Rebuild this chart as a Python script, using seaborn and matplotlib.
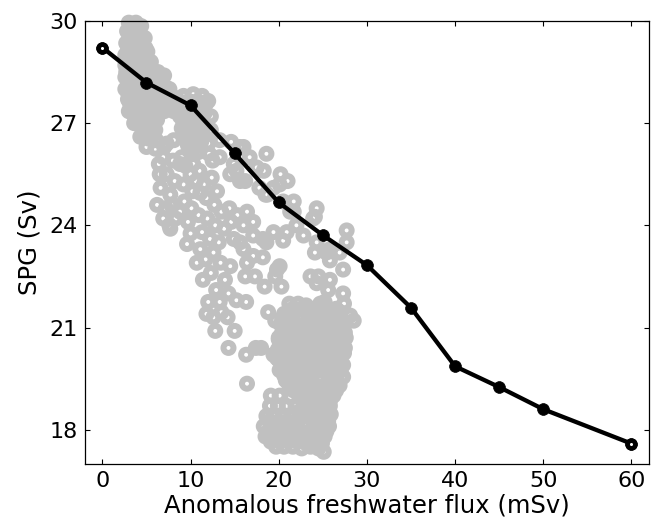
# -*- coding: utf-8 -*-

### SPG transport vs anomalous freshwater flux ###

import matplotlib
matplotlib.use("Agg")
import matplotlib.pyplot as plt
import seaborn as sns

## Styles ##
sns.set_style("ticks")
plt.rcParams['font.family'] = ['DejaVu Sans']
plt.rcParams.update({'text.color': 'k', 'axes.labelcolor': 'k',
                     'xtick.color': 'k', 'ytick.color': 'k',
                     'axes.edgecolor': 'k'})

## Data ##

# equilibrium runs (black line)
flux = [0, 5, 10, 15, 20, 25, 30, 35, 40, 45, 50, 60]
spg = [29.22, 28.19, 27.52, 26.11, 24.67, 23.71, 22.83, 21.58, 19.86, 19.25, 18.60, 17.59]

# transient run, upper part (grey rings)
top_x = [3.0, 3.8, 4.4, 2.8, 3.4, 4.2, 4.8,
         2.7, 3.3, 4.1, 4.9, 2.6, 3.2, 4.0, 4.8, 5.5,
         2.6, 3.0, 3.8, 4.6, 5.5, 6.3, 7.0,
         2.6, 3.0, 3.9, 4.8, 6.0, 6.9, 7.6,
         2.6, 3.2, 4.2, 5.2, 6.3, 7.3, 8.2, 9.2, 10.3, 11.3, 12.0,
         2.9, 3.5, 4.5, 5.5, 6.5, 7.4, 8.6, 9.6, 10.8, 11.6,
         3.0, 3.9, 4.7, 5.5, 6.2, 8.8, 9.7, 10.6, 11.4, 12.3,
         3.6, 4.4, 5.2, 6.0, 9.0, 10.0, 10.9, 12.3, 11.4,
         4.3, 5.2, 6.1, 9.3, 10.3, 11.2, 12.0, 13.3, 14.6, 15.6,
         5.0, 6.0, 7.0, 7.3, 8.1, 9.9, 10.9, 12.1, 13.3, 16.0,
         3.4, 4.1, 3.0, 3.8, 4.5, 2.9, 3.7, 4.5, 5.1, 2.9, 3.6, 4.4, 5.1,
         2.7, 3.4, 4.3, 5.1, 5.9, 6.7, 3.5, 4.4, 5.4, 6.4, 7.2,
         2.9, 3.7, 4.7, 5.7, 6.8, 7.8, 8.7, 9.8, 10.8, 11.7,
         3.1, 4.0, 5.0, 6.0, 7.0, 8.1, 9.1, 10.2, 11.2,
         3.4, 4.3, 5.1, 5.9, 9.2, 10.2, 11.0, 4.0, 4.8, 5.6, 9.5, 10.5,
         4.8, 5.7, 9.7, 10.6]
top_y = [29.95, 29.95, 29.85, 29.7, 29.65, 29.6, 29.5,
         29.35, 29.3, 29.3, 29.2, 29.0, 29.0, 28.95, 28.9, 28.8,
         28.7, 28.65, 28.6, 28.6, 28.5, 28.5, 28.4,
         28.35, 28.3, 28.25, 28.2, 28.15, 28.1, 28.0,
         28.0, 27.95, 27.9, 27.85, 27.85, 27.8, 27.75, 27.8, 27.85, 27.8, 27.65,
         27.7, 27.6, 27.6, 27.55, 27.5, 27.45, 27.5, 27.45, 27.45, 27.3,
         27.35, 27.3, 27.25, 27.2, 27.1, 27.2, 27.15, 27.1, 27.0, 27.2,
         27.0, 26.9, 26.85, 26.8, 26.85, 26.8, 26.75, 26.8, 26.7,
         26.6, 26.55, 26.5, 26.55, 26.45, 26.45, 26.4, 26.5, 26.45, 26.3,
         26.3, 26.25, 26.3, 26.4, 26.5, 26.2, 26.15, 26.1, 26.0, 26.3,
         29.8, 29.8, 29.45, 29.45, 29.45, 29.15, 29.15, 29.15, 29.1, 28.85, 28.85, 28.8, 28.75,
         28.5, 28.5, 28.45, 28.4, 28.35, 28.3, 28.2, 28.2, 28.1, 28.0, 28.05,
         27.9, 27.9, 27.85, 27.8, 27.7, 27.65, 27.65, 27.65, 27.65, 27.55,
         27.6, 27.55, 27.45, 27.4, 27.35, 27.35, 27.3, 27.3, 27.2,
         27.3, 27.25, 27.1, 27.0, 27.0, 26.95, 26.9, 27.0, 26.95, 26.95, 26.7, 26.65,
         26.7, 26.65, 26.35, 26.3]

# transient run, middle part
mid_x = [6.4, 7.3, 8.8, 10.3, 6.6, 7.7, 9.4, 6.5, 12.5,
         14.9, 16.7, 17.5, 18.6, 18.3, 14.5, 15.6, 20.2, 21.0, 19.4,
         20.5, 21.7, 24.3, 23.9, 20.1, 18.7, 21.7, 21.3, 24.1, 22.0,
         20.9, 22.8, 24.3, 27.7, 27.7, 25.8, 26.9, 15.2, 16.2, 17.8, 18.5,
         10.6, 11.5, 12.4, 13.0, 11.8, 12.7, 13.5, 10.9, 11.9, 12.8,
         13.8, 14.6, 11.3, 12.2, 13.2, 14.9, 12.6, 11.7, 13.4, 12.3,
         13.9, 11.4, 12.9, 14.3, 10.7, 14.5,
         6.9, 7.6, 8.3, 7.2, 8.8, 10.1, 11.1, 9.6, 11.1, 10.0, 7.7,
         14.4, 15.3, 16.4, 17.1, 16.0, 17.1, 18.6, 15.6,
         16.0, 17.1, 16.4, 16.2, 17.3, 18.2, 19.4, 20.5,
         18.2, 20.1, 19.6, 18.4, 20.3, 19.8,
         23.6, 24.5, 24.3, 25.6, 24.1, 25.4, 25.8, 27.3, 25.8, 27.3,
         6.9, 8.0, 9.0, 10.0, 11.0, 8.2, 9.2, 10.2, 6.2, 7.8, 9.3, 9.7]
mid_y = [25.8, 25.5, 25.8, 25.8, 25.1, 24.9, 25.75, 25.5, 25.9,
         25.8, 26.0, 25.7, 26.1, 25.6, 25.5, 25.3, 25.5, 25.3, 25.1,
         24.7, 24.4, 24.5, 24.2, 25.2, 24.9, 24.7, 24.4, 24.25, 24.0,
         23.8, 23.7, 23.5, 23.85, 23.5, 23.3, 23.2, 25.6, 25.3, 25.1, 24.9,
         25.3, 25.2, 25.4, 25.0, 24.8, 24.6, 24.4, 24.3, 24.2, 24.0,
         23.9, 24.1, 23.8, 23.6, 23.5, 23.6, 23.2, 23.0, 22.9, 22.6,
         22.4, 22.4, 22.1, 22.0, 22.9, 22.8,
         24.2, 24.0, 24.2, 24.5, 24.4, 24.5, 24.95, 23.45, 23.3, 23.76, 23.9,
         24.5, 24.3, 24.4, 24.1, 24.0, 23.7, 23.5, 23.5,
         23.3, 23.1, 22.9, 22.5, 22.5, 23.6, 23.8, 23.55,
         23.06, 22.8, 22.5, 22.2, 22.2, 22.7,
         22.5, 22.5, 22.3, 22.1, 23.2, 23.2, 22.97, 22.7, 22.4, 22.0,
         26.0, 25.9, 26.0, 25.5, 25.6, 25.3, 25.2, 25.0, 24.6, 24.6, 24.7, 24.1]

# transient run, lower part
low_x = [12.0, 13.3, 15.2, 16.3, 11.8, 12.6, 13.5, 14.2, 12.8, 15.0,
         14.3, 16.3, 17.4, 16.4, 18.8, 19.6, 20.0, 19.8, 18.0,
         21.2, 22.2, 23.1, 24.7, 25.2, 27.4, 28.5, 27.0,
         20.6, 21.5, 22.4, 23.4, 24.3, 25.3, 26.2, 28.1,
         20.2, 21.1, 22.0, 22.9, 23.9, 24.8, 25.7, 26.6,
         20.3, 21.3, 22.2, 23.2, 24.1, 25.0, 26.0, 26.9, 27.5,
         20.5, 21.4, 22.4, 23.4, 24.4, 25.3, 26.3, 27.2,
         19.4, 20.3, 21.2, 22.1, 23.0, 24.0, 24.9, 25.9, 26.8, 27.4,
         20.4, 21.4, 22.4, 23.5, 24.4, 25.4, 26.4, 27.3,
         20.6, 21.6, 22.6, 23.6, 24.6, 25.6, 26.6, 27.3,
         21.2, 22.2, 23.2, 24.2, 25.2, 26.2, 26.9,
         19.1, 20.1, 21.3, 22.3, 23.3, 24.3, 25.3, 26.2,
         19.0, 19.9, 20.9, 21.9, 22.9, 23.9, 24.9, 25.8,
         18.6, 19.5, 20.5, 21.4, 22.4, 23.4, 24.4, 25.3, 25.9,
         18.3, 19.2, 20.1, 21.1, 22.1, 23.1, 24.1, 25.0, 25.7,
         18.5, 19.4, 20.4, 21.4, 22.4, 23.4, 24.3, 25.2,
         19.7, 20.6, 21.6, 22.6, 23.6, 24.5, 25.1]
low_y = [21.75, 21.75, 21.8, 21.75, 21.4, 21.3, 21.45, 21.3, 20.9, 20.9,
         20.4, 20.2, 20.4, 19.35, 21.45, 21.2, 20.7, 20.1, 20.4,
         21.7, 21.7, 21.65, 21.7, 21.75, 21.7, 21.2, 21.45,
         21.4, 21.4, 21.35, 21.4, 21.4, 21.35, 21.4, 21.35,
         21.1, 21.1, 21.05, 21.1, 21.1, 21.05, 21.1, 21.1,
         20.8, 20.8, 20.8, 20.75, 20.8, 20.8, 20.8, 20.8, 20.85,
         20.5, 20.5, 20.5, 20.45, 20.5, 20.5, 20.5, 20.5,
         20.2, 20.2, 20.2, 20.2, 20.15, 20.2, 20.2, 20.2, 20.2, 20.25,
         19.9, 19.9, 19.9, 19.9, 19.85, 19.9, 19.9, 19.9,
         19.6, 19.6, 19.6, 19.6, 19.55, 19.6, 19.6, 19.55,
         19.3, 19.3, 19.3, 19.3, 19.25, 19.3, 19.3,
         19.0, 19.0, 18.95, 19.0, 19.0, 19.0, 18.95, 19.0,
         18.7, 18.7, 18.7, 18.7, 18.65, 18.7, 18.7, 18.7,
         18.4, 18.4, 18.4, 18.4, 18.35, 18.4, 18.4, 18.4, 18.45,
         18.1, 18.1, 18.1, 18.1, 18.05, 18.1, 18.1, 18.1, 18.1,
         17.8, 17.8, 17.8, 17.8, 17.75, 17.8, 17.8, 17.8,
         17.5, 17.5, 17.5, 17.45, 17.5, 17.45, 17.35]

# transient run, lower part (in-between samples of the dense cluster)
fill_x = [21.6, 22.6, 23.6, 24.6, 25.6, 26.5,
          20.6, 21.5, 22.5, 23.4, 24.3, 25.2, 26.1, 27.0,
          20.7, 21.6, 22.6, 23.6, 24.5, 25.4, 26.4, 27.3,
          20.0, 20.9, 21.9, 22.8, 23.8, 24.8, 25.7, 26.7, 27.6,
          19.9, 20.9, 21.8, 22.8, 23.7, 24.7, 25.7, 26.6, 27.5,
          20.0, 20.9, 21.9, 22.9, 23.9, 24.9, 25.8, 26.8,
          20.1, 21.1, 22.1, 23.1, 24.1, 25.1, 26.1, 27.0,
          20.8, 21.7, 22.7, 23.7, 24.7, 25.7, 26.6,
          21.7, 22.7, 23.7, 24.7, 25.7, 26.5,
          22.8, 23.8, 24.8, 25.8,
          22.4, 23.4, 24.4, 25.4,
          18.9, 20.0, 21.0, 21.9, 22.9, 23.9, 24.9, 25.6,
          18.8, 19.7, 20.6, 21.6, 22.6, 23.6, 24.6, 25.4,
          19.1, 20.1, 21.1, 22.1, 23.1, 24.0, 24.9]
fill_y = [21.55, 21.55, 21.55, 21.5, 21.55, 21.55,
          21.25, 21.25, 21.25, 21.2, 21.25, 21.25, 21.25, 21.3,
          20.95, 20.95, 20.95, 20.9, 20.95, 20.95, 20.95, 21.0,
          20.65, 20.65, 20.65, 20.6, 20.65, 20.65, 20.65, 20.65, 20.7,
          20.35, 20.35, 20.35, 20.3, 20.35, 20.35, 20.35, 20.35, 20.4,
          20.05, 20.05, 20.05, 20.0, 20.05, 20.05, 20.05, 20.05,
          19.75, 19.75, 19.75, 19.7, 19.75, 19.75, 19.75, 19.75,
          19.45, 19.45, 19.45, 19.4, 19.45, 19.45, 19.45,
          19.15, 19.15, 19.15, 19.1, 19.15, 19.15,
          18.85, 18.85, 18.85, 18.85,
          18.55, 18.55, 18.55, 18.55,
          18.25, 18.25, 18.25, 18.25, 18.2, 18.25, 18.25, 18.25,
          17.95, 17.95, 17.95, 17.95, 17.9, 17.95, 17.95, 17.95,
          17.65, 17.65, 17.65, 17.65, 17.6, 17.65, 17.6]

cloud_x = top_x + mid_x + low_x + fill_x
cloud_y = top_y + mid_y + low_y + fill_y

## Plot data ##

fig = plt.figure(figsize=(6.57, 5.24), dpi=100)
ax = fig.add_axes([0.129, 0.115, 0.859, 0.845])

sns.scatterplot(x=cloud_x, y=cloud_y, s=52, marker='o', ax=ax, legend=False)
rings = ax.collections[0]
rings.set_facecolor('none')
rings.set_edgecolor('#c0c0c0')
rings.set_linewidth(4.3)
rings.set_clip_on(False)

sns.lineplot(x=flux, y=spg, color='k', linewidth=3.1, marker='o',
             markersize=8.5, markeredgecolor='k', markeredgewidth=0.5, ax=ax)
# open end points
ax.plot([flux[0], flux[-1]], [spg[0], spg[-1]], 'o', mfc='white', mec='k',
        ms=5.5, mew=3.2, zorder=5)

plt.xlabel("Anomalous freshwater flux (mSv)", fontsize=17.5, labelpad=2)
plt.ylabel("SPG (Sv)", fontsize=17.5, labelpad=6)
plt.xlim([-2, 62])
plt.ylim([17, 30])
plt.xticks([0, 10, 20, 30, 40, 50, 60])
plt.yticks([18, 21, 24, 27, 30])
ax.tick_params(direction='in', top=True, right=True, length=3.5, width=0.8,
               labelsize=16, pad=5)
for sp in ax.spines.values():
    sp.set_linewidth(0.9)

plt.savefig("out.png", dpi=100)
